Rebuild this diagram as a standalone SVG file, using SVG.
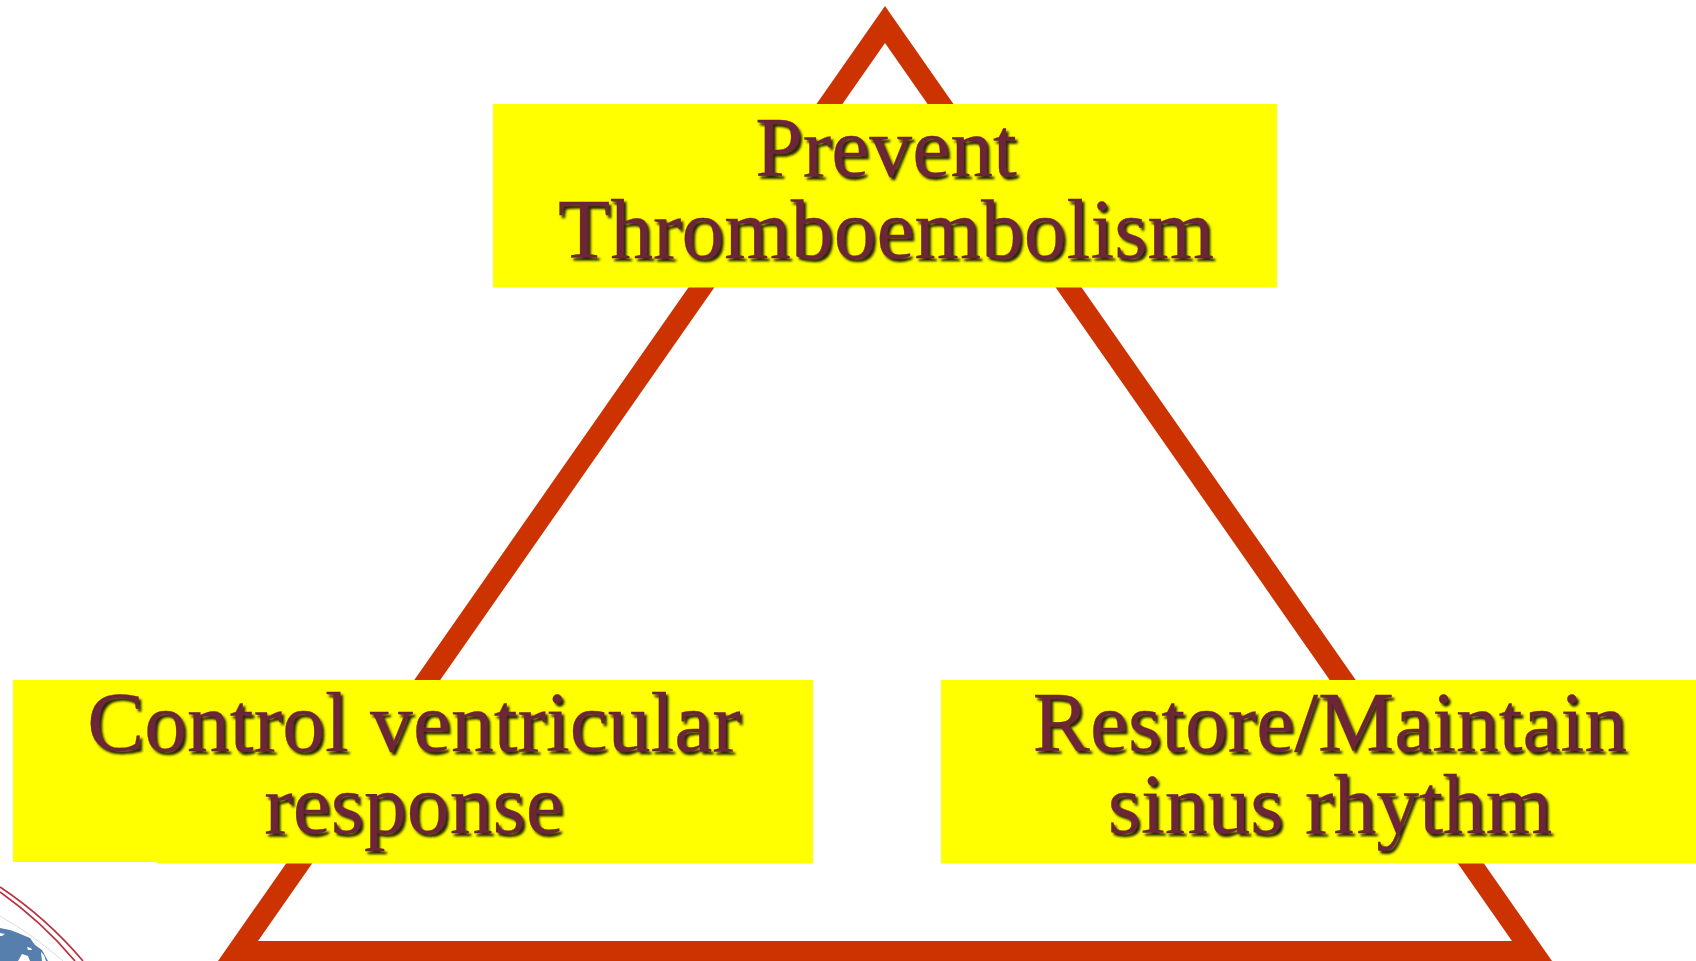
<svg xmlns="http://www.w3.org/2000/svg" width="1696" height="961" viewBox="0 0 1696 961">
<style>
.box{fill:#ffff00}
.lbl{font-family:"Liberation Serif","Times New Roman",serif;font-size:85.6px;fill:#6c2539;text-anchor:middle;stroke:#6c2539;stroke-width:.3}
.ring{fill:none;stroke:#b8303f;stroke-width:1.7}
</style>
<defs>
<filter id="sh" x="-5%" y="-10%" width="110%" height="125%"><feDropShadow dx="2.5" dy="3" stdDeviation="1.3" flood-color="#262600" flood-opacity="1"/></filter>
</defs>
<rect width="1696" height="961" fill="#fff"/>
<g id="logo-mark">
<path fill="#567fae" d="M0 928 L10 930 L18 933 L30 938 L35 945 L42 950 L48 961 L0 961 Z"/>
<path fill="#fff" d="M27 947 L31 948 L32 950 L28 950 Z M22 954 L28 956 L30 961 L18 961 Z M0 933 L5 934 L2 936 L0 936 Z M41 952 L44 955 L46 961 L42 961 Z"/>
<path fill="none" stroke="#d9dee6" stroke-width="1" d="M0 916 A400 400 0 0 1 63 961"/>
<path class="ring" d="M0 887 A400 400 0 0 1 83 961"/>
<path class="ring" d="M0 892 A400 400 0 0 1 75 961"/>
</g>
<g id="triangle">
<path fill-rule="evenodd" fill="#cc3300" d="M885 6 L1552 961 L218 961 Z M885 43 L258 941 L1512 941 Z"/>
</g>
<g id="top-node">
<rect class="box" x="493" y="104" width="784" height="183.5"/>
<text class="lbl" filter="url(#sh)" x="886" y="176">Prevent</text>
<text class="lbl" filter="url(#sh)" x="886" y="258">Thromboembolism</text>
</g>
<g id="left-node">
<rect class="box" x="13" y="680" width="800" height="182"/>
<rect class="box" x="157" y="860" width="656" height="3.5"/>
<text class="lbl" filter="url(#sh)" x="414" y="751">Control ventricular</text>
<text class="lbl" filter="url(#sh)" x="414" y="833">response</text>
</g>
<g id="right-node">
<rect class="box" x="941" y="680" width="755" height="183.5"/>
<text class="lbl" filter="url(#sh)" x="1330" y="751">Restore/Maintain</text>
<text class="lbl" filter="url(#sh)" x="1330" y="833">sinus rhythm</text>
</g>
</svg>
